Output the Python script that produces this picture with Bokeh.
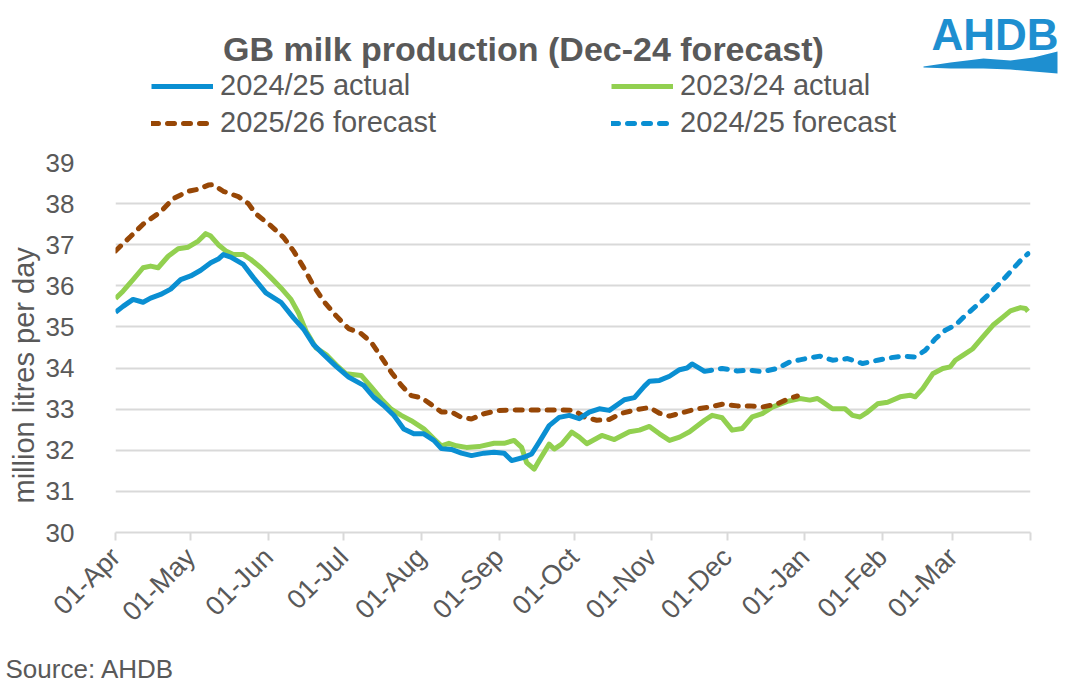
import math
from bokeh.plotting import figure
from bokeh.layouts import column
from bokeh.models import Range1d, FixedTicker, Legend, LegendItem, Label, PolyAnnotation, Title
from bokeh.embed import file_html
from bokeh.resources import INLINE

# ---------------- data (day of season, starting 01-Apr = 0) ----------------
month_ticks = [0, 30, 61, 91, 122, 153, 183, 214, 244, 275, 306, 334, 365]
month_labels = ["01-Apr", "01-May", "01-Jun", "01-Jul", "01-Aug", "01-Sep", "01-Oct",
                "01-Nov", "01-Dec", "01-Jan", "01-Feb", "01-Mar", ""]
y_ticks = [30, 31, 32, 33, 34, 35, 36, 37, 38, 39]

act2425_day = [0, 3, 7, 11, 14, 18, 22, 26, 30, 34, 38, 41, 43, 46, 51, 55, 60, 66, 71, 75,
               79, 83, 88, 93, 99, 103, 107, 111, 115, 119, 123, 127, 130, 134, 138, 142, 147, 151, 155, 158,
               163, 166, 169, 173, 177, 181, 185, 189, 193, 197, 203, 207, 211, 213, 217, 221, 225, 228, 230, 232,
               235]
act2425_val = [35.36, 35.5, 35.67, 35.6, 35.7, 35.79, 35.92, 36.15, 36.24, 36.38,
               36.56, 36.65, 36.76, 36.7, 36.52, 36.2, 35.83, 35.6, 35.22, 34.95,
               34.57, 34.33, 34.04, 33.78, 33.58, 33.29, 33.09, 32.85, 32.52, 32.4,
               32.4, 32.24, 32.04, 32.02, 31.93, 31.87, 31.93, 31.95, 31.93, 31.75,
               31.83, 31.91, 32.2, 32.6, 32.8, 32.85, 32.77, 32.93, 33.01, 32.97,
               33.23, 33.28, 33.56, 33.68, 33.7, 33.8, 33.96, 34.0, 34.1, 34.03,
               33.92]

act2324_day = [0, 3, 7, 11, 14, 17, 21, 25, 29, 33, 36, 38, 41, 44, 47, 51, 54, 58, 62, 66,
               70, 73, 76, 80, 84, 88, 92, 98, 102, 106, 110, 114, 118, 123, 127, 130, 133, 136, 140, 145,
               151, 155, 159, 162, 164, 167, 169, 173, 175, 178, 182, 185, 188, 194, 199, 205, 209, 213, 217, 221,
               225, 229, 235, 238, 242, 246, 250, 254, 258, 262, 268, 273, 277, 280, 282, 286, 291, 294, 297, 300,
               304, 308, 313, 317, 319, 322, 326, 330, 333, 335, 338, 342, 346, 350, 354, 357, 361, 363, 364]
act2324_val = [35.69, 35.87, 36.15, 36.44, 36.48, 36.44, 36.72, 36.9, 36.94, 37.09,
               37.27, 37.21, 37.0, 36.85, 36.76, 36.76, 36.64, 36.44, 36.2, 35.95,
               35.67, 35.34, 34.9, 34.49, 34.33, 34.08, 33.86, 33.82, 33.54, 33.25,
               33.0, 32.85, 32.72, 32.52, 32.28, 32.11, 32.17, 32.11, 32.07, 32.09,
               32.17, 32.17, 32.24, 32.07, 31.7, 31.54, 31.75, 32.15, 32.03, 32.15,
               32.44, 32.32, 32.16, 32.36, 32.26, 32.45, 32.49, 32.58, 32.4, 32.24,
               32.32, 32.45, 32.73, 32.85, 32.79, 32.49, 32.53, 32.81, 32.89, 33.05,
               33.19, 33.26, 33.22, 33.26, 33.18, 33.01, 33.01, 32.85, 32.81, 32.93,
               33.13, 33.17, 33.3, 33.34, 33.3, 33.5, 33.86, 33.99, 34.03, 34.19,
               34.31, 34.47, 34.76, 35.04, 35.24, 35.39, 35.47, 35.45, 35.38]

fc2526_day = [0, 6, 11, 18, 23, 29, 33, 37, 39, 43, 49, 53, 56, 62, 67, 71, 75, 79, 83, 88,
              93, 98, 102, 106, 110, 114, 118, 122, 126, 130, 134, 138, 142, 147, 153, 161, 169, 177, 183, 187,
              192, 197, 202, 208, 213, 217, 221, 227, 232, 237, 242, 248, 253, 258, 264, 269, 272]
fc2526_val = [36.85, 37.2, 37.5, 37.8, 38.12, 38.3, 38.35, 38.45, 38.46, 38.3,
              38.17, 38.0, 37.75, 37.46, 37.18, 36.85, 36.45, 36.0, 35.63, 35.27,
              34.96, 34.84, 34.63, 34.27, 33.9, 33.58, 33.33, 33.28, 33.11, 32.93,
              32.93, 32.8, 32.76, 32.89, 32.97, 32.98, 32.98, 32.98, 32.97, 32.81,
              32.73, 32.75, 32.9, 32.99, 33.04, 32.9, 32.83, 32.93, 33.01, 33.05,
              33.12, 33.08, 33.08, 33.05, 33.13, 33.27, 33.32]

fc2425_day = [235, 242, 248, 253, 258, 264, 269, 273, 277, 281, 286, 292, 298, 304, 309, 314,
              319, 323, 327, 331, 335, 339, 345, 350, 355, 362, 364]
fc2425_val = [33.92, 33.99, 33.93, 33.95, 33.91, 33.99, 34.15, 34.2, 34.25, 34.29, 34.19, 34.23,
              34.11, 34.19, 34.25, 34.29, 34.27, 34.43, 34.71, 34.92, 35.04, 35.28, 35.6, 35.89,
              36.21, 36.68, 36.78]

series_names = ["2024/25 actual", "2023/24 actual", "2025/26 forecast", "2024/25 forecast"]

# ---------------- styling ----------------
FONT = "Liberation Sans"
GREY = "#595959"
GRID = "#d9d9d9"
BLUE = "#0a8fd2"
GREEN = "#92d050"
BROWN = "#974706"
LOGO = "#1e8fd0"
LW = 5
DASH = "7 9"
W = 1079

# ---------------- header (title, legend, logo) ----------------
HH = 142
header = figure(width=W, height=HH, x_range=Range1d(0, W), y_range=Range1d(HH, 0),
                x_axis_type=None, y_axis_type=None, toolbar_location=None,
                output_backend="svg", min_border=0)
header.frame_align = False
header.outline_line_color = None
header.grid.visible = False

# hidden copies of the series so the legend can show their line styles
h_b = header.line(act2425_day, act2425_val, line_color=BLUE, line_width=LW, visible=False)
h_g = header.line(act2324_day, act2324_val, line_color=GREEN, line_width=LW, visible=False)
h_br = header.line(fc2526_day, fc2526_val, line_color=BROWN, line_width=LW, line_dash=DASH,
                   line_cap="round", visible=False)
h_bf = header.line(fc2425_day, fc2425_val, line_color=BLUE, line_width=LW, line_dash=DASH,
                   line_cap="round", visible=False)

def make_legend(items, loc):
    lg = Legend(items=items, location=loc, orientation="vertical")
    lg.border_line_color = None
    lg.background_fill_alpha = 0
    lg.inactive_fill_alpha = 0
    lg.padding = 0
    lg.margin = 0
    lg.spacing = 4
    lg.glyph_width = 62
    lg.glyph_height = 32
    lg.label_height = 32
    lg.label_standoff = 7
    lg.label_text_font = FONT
    lg.label_text_font_size = "29px"
    lg.label_text_color = GREY
    lg.click_policy = "none"
    return lg

header.add_layout(make_legend([LegendItem(label=series_names[0], renderers=[h_b]),
                               LegendItem(label=series_names[2], renderers=[h_br])], (151, 3)))
header.add_layout(make_legend([LegendItem(label=series_names[1], renderers=[h_g]),
                               LegendItem(label=series_names[3], renderers=[h_bf])], (611, 3)))

header.add_layout(Label(x=523, y=48, text="GB milk production (Dec-24 forecast)",
                        text_align="center", text_baseline="middle", text_font=FONT,
                        text_font_size="34px", text_font_style="bold", text_color=GREY))

# logo: wave first, then lettering on top
wave_x = [923, 950, 983, 1010, 1033, 1057, 1057, 1033, 1010, 983, 950, 923]
wave_y = [66, 62, 58, 60, 57, 51, 73, 71, 69, 68, 68, 67]
header.add_layout(PolyAnnotation(xs=wave_x, ys=wave_y, fill_color=LOGO, fill_alpha=1,
                                 line_color=None))
header.add_layout(Label(x=931, y=34, text="AHDB", text_align="left", text_baseline="middle",
                        text_font=FONT, text_font_size="44px", text_font_style="bold",
                        text_color=LOGO))

# ---------------- main chart ----------------
p = figure(width=W, height=498, output_backend="svg", toolbar_location=None,
           x_range=Range1d(0, 365), y_range=Range1d(30, 39),
           min_border_left=115, min_border_right=49, min_border_top=20, min_border_bottom=108)
p.frame_align = False
p.outline_line_color = None

p.xgrid.grid_line_color = None
p.ygrid.grid_line_color = GRID
p.ygrid.grid_line_width = 2

ax = p.xaxis[0]
ax.ticker = FixedTicker(ticks=month_ticks)
ax.major_label_overrides = {t: lbl for t, lbl in zip(month_ticks, month_labels)}
ax.axis_line_color = GRID
ax.axis_line_width = 2
ax.major_tick_line_color = GRID
ax.major_tick_line_width = 2
ax.major_tick_out = 8
ax.major_tick_in = 0
ax.minor_tick_line_color = None
ax.major_label_orientation = math.pi / 4
ax.major_label_text_font = FONT
ax.major_label_text_font_size = "27px"
ax.major_label_text_color = GREY
ax.major_label_standoff = 12

ay = p.yaxis[0]
ay.ticker = FixedTicker(ticks=y_ticks)
ay.axis_line_color = None
ay.major_tick_line_color = None
ay.minor_tick_line_color = None
ay.major_label_text_font = FONT
ay.major_label_text_font_size = "26px"
ay.major_label_text_color = GREY
ay.major_label_standoff = 35

p.add_layout(Title(text="million litres per day", align="left", offset=29, standoff=6,
                   text_font=FONT, text_font_size="29px", text_font_style="normal",
                   text_color=GREY), "left")

p.line(act2324_day, act2324_val, line_color=GREEN, line_width=LW, line_join="round")
p.line(fc2526_day, fc2526_val, line_color=BROWN, line_width=LW, line_dash=DASH, line_cap="round")
p.line(fc2425_day, fc2425_val, line_color=BLUE, line_width=LW, line_dash=DASH, line_cap="round")
p.line(act2425_day, act2425_val, line_color=BLUE, line_width=LW, line_join="round")

# ---------------- footer ----------------
FH = 52
footer = figure(width=W, height=FH, x_range=Range1d(0, W), y_range=Range1d(FH, 0),
                x_axis_type=None, y_axis_type=None, toolbar_location=None,
                output_backend="svg", min_border=0)
footer.frame_align = False
footer.outline_line_color = None
footer.grid.visible = False
footer.add_layout(Label(x=5, y=28, text="Source: AHDB", text_align="left", text_baseline="middle",
                        text_font=FONT, text_font_size="26px", text_color=GREY))

layout = column(header, p, footer, spacing=0)
open("out.html", "w").write(file_html(layout, INLINE))
